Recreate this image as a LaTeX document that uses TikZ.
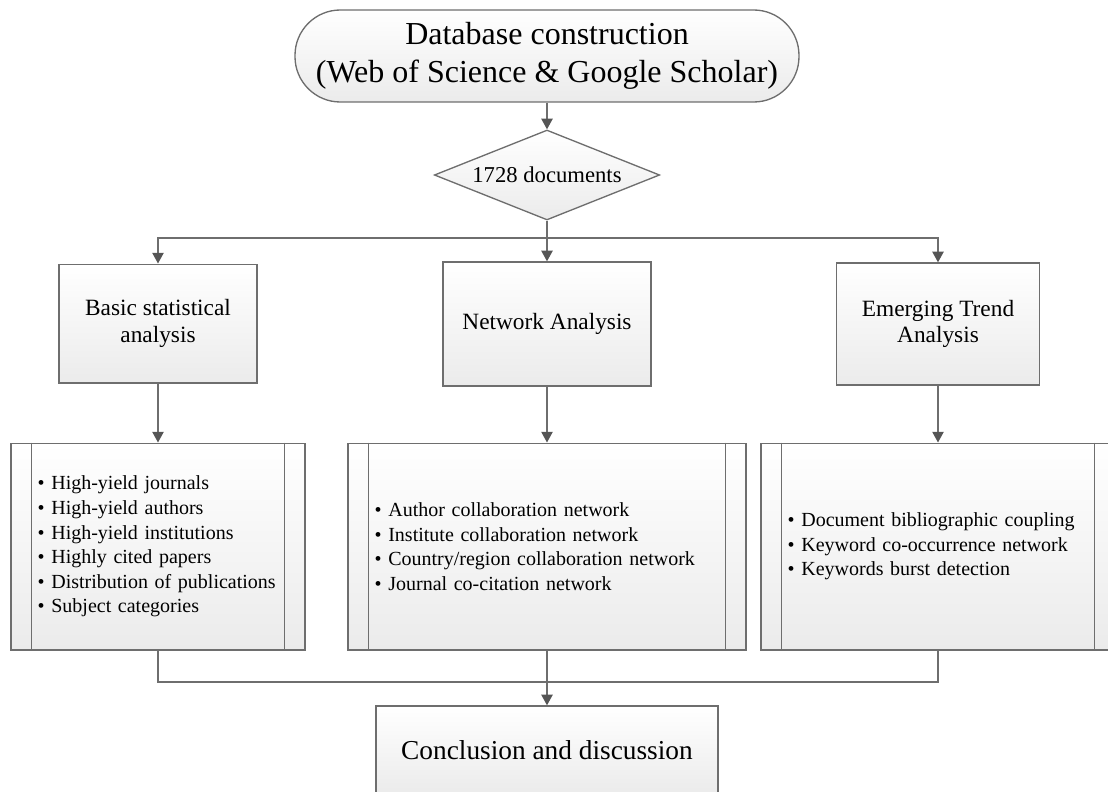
\documentclass[tikz,border=0pt]{standalone}
\usepackage{fontspec}
\setmainfont{Liberation Serif}
\usetikzlibrary{shapes.geometric, arrows.meta}
\definecolor{linegray}{HTML}{6E6E6E}
\definecolor{tipgray}{HTML}{555555}
\definecolor{shadegray}{HTML}{EBEBEB}
\tikzset{
  box/.style={rectangle, draw=linegray, line width=1pt, top color=white, bottom color=shadegray, inner sep=0pt, align=center},
  procbox/.style={box, align=left, inner xsep=20pt, minimum height=155pt, font=\fontsize{15}{18.4}\selectfont},
  link/.style={draw=linegray, line width=1pt},
  >={Triangle[length=8pt, width=8.5pt, color=tipgray]}
}

\begin{document}
\begin{tikzpicture}[x=0.75pt, y=-0.75pt]
\useasboundingbox (0,0) rectangle (1108,792);

\node[box, rounded corners=34pt, minimum width=378pt, minimum height=69pt, font=\fontsize{24}{28.5}\selectfont] (db) at (547,56) {Database construction\\(Web of Science \& Google Scholar)};
\node[box, diamond, aspect=2.5, minimum width=169pt, minimum height=67.5pt, font=\fontsize{17}{20}\selectfont] (docs) at (547,175) {1728 documents};

\node[box, minimum width=148.5pt, minimum height=89pt, font=\fontsize{17.5}{20}\selectfont] (bsa) at (158,323.5) {Basic statistical\\analysis};
\node[box, minimum width=156pt, minimum height=93pt, font=\fontsize{17.5}{20}\selectfont] (na) at (547,324) {Network Analysis};
\node[box, minimum width=152pt, minimum height=91.5pt, font=\fontsize{17.5}{20}\selectfont] (eta) at (938,324) {Emerging Trend\\Analysis};

\node[procbox, text width=180.5pt] (bl) at (158,546.5) {\textbullet~High-yield journals\\\textbullet~High-yield authors\\\textbullet~High-yield institutions\\\textbullet~Highly cited papers\\\textbullet~Distribution of publications\\\textbullet~Subject categories};
\node[procbox, text width=258.5pt] (nl) at (547,546.5) {\textbullet~Author collaboration network\\\textbullet~Institute collaboration network\\\textbullet~Country/region collaboration network\\\textbullet~Journal co-citation network};
\node[procbox, text width=225.5pt] (el) at (938,546.5) {\textbullet~Document bibliographic coupling\\\textbullet~Keyword co-occurrence network\\\textbullet~Keywords burst detection};

\node[box, minimum width=256.5pt, minimum height=66pt, font=\fontsize{20.5}{24}\selectfont] (cd) at (547,750) {Conclusion and discussion};

\foreach \n in {bl,nl,el}{
  \draw[link] ([xshift=16pt]\n.north west) -- ([xshift=16pt]\n.south west);
  \draw[link] ([xshift=-16pt]\n.north east) -- ([xshift=-16pt]\n.south east);
}

\coordinate (split) at (547,238);
\coordinate (join) at (547,682);

\draw[link, ->] (db) -- (docs);
\draw[link] (docs) -- (split);
\draw[link, ->] (split) -| (bsa);
\draw[link, ->] (split) -- (na);
\draw[link, ->] (split) -| (eta);
\draw[link, ->] (bsa) -- (bl);
\draw[link, ->] (na) -- (nl);
\draw[link, ->] (eta) -- (el);
\draw[link] (bl) |- (join);
\draw[link] (el) |- (join);
\draw[link, ->] (nl) -- (cd);
\end{tikzpicture}
\end{document}
